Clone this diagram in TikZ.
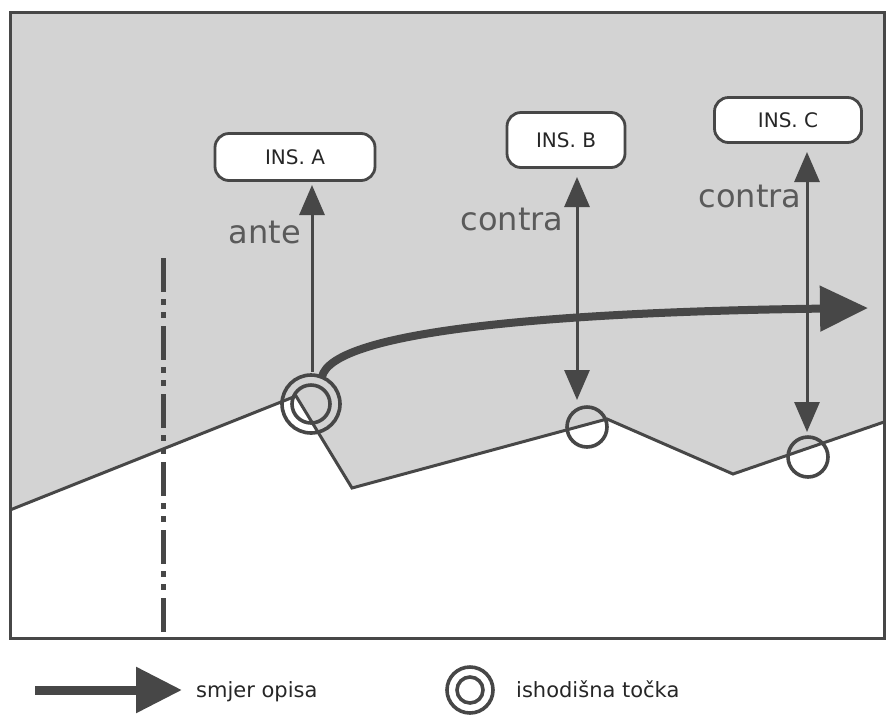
\documentclass[tikz,border=0pt]{standalone}
\usepackage{fontspec}
\setmainfont{DejaVu Sans}
\usetikzlibrary{arrows.meta}
\definecolor{ink}{HTML}{474747}
\definecolor{zonegray}{HTML}{D3D3D3}
\definecolor{txtgray}{HTML}{5A5A5A}
\begin{document}
\begin{tikzpicture}[x=1pt,y=-1pt,
  insbox/.style={draw=ink, line width=2.8pt, fill=white, rounded corners=14pt,
    font=\fontsize{20}{20}\selectfont, text=black!85, inner sep=0pt},
  lbl/.style={font=\fontsize{32}{32}\selectfont, text=txtgray, anchor=base, inner sep=0pt},
  legtxt/.style={font=\fontsize{21}{21}\selectfont, text=black!85, anchor=base west, inner sep=0pt},
  ring/.style={draw=ink, line width=3.6pt, circle, inner sep=0pt, outer sep=0pt},
  tipA/.style={-{Triangle[length=30pt,width=25pt]}},
  tipAB/.style={{Triangle[length=30pt,width=25pt]}-{Triangle[length=30pt,width=25pt]}},
  measure/.style={draw=ink, line width=3pt},
  ground/.style={draw=ink, line width=3pt, line join=miter}
]
\useasboundingbox (0,0) rectangle (888,721);

% shaded zone above the ground line
\fill[zonegray] (10,12) -- (884,12) -- (884,422) -- (733,474) -- (607,419) -- (352,488) -- (296,396) -- (10,510) -- cycle;
\draw[ground] (10,510) -- (296,396) -- (352,488) -- (607,419) -- (733,474) -- (884,422);

% frame
\draw[ink, line width=3pt] (10,12) rectangle (884,638);

% dash-dot line
\coordinate (dd1) at (163,258);
\coordinate (dd2) at (163,638);
\draw[ink, line width=5pt, dash pattern=on 34pt off 7pt on 6pt off 7pt on 6pt off 8pt] (dd1) -- (dd2);

% circles on the ground line
\node[ring, minimum size=58pt] (cA) at (311,404) {};
\draw[ink, line width=3.6pt] (cA.center) circle (19);
\node[ring, minimum size=40pt] (cB) at (587,427) {};
\node[ring, minimum size=40pt] (cC) at (808,457) {};

% INS boxes
\node[insbox, minimum width=160pt, minimum height=47pt] (insA) at (295,157) {INS. A};
\node[insbox, minimum width=118pt, minimum height=55pt] (insB) at (566,140) {INS. B};
\node[insbox, minimum width=147pt, minimum height=45pt] (insC) at (788,120) {INS. C};

% measure arrows
\coordinate (aBot) at (312,372);
\coordinate (aTop) at (312,185);
\draw[measure, tipA] (aBot) -- (aTop);
\coordinate (bBot) at (577,400);
\coordinate (bTop) at (577,177);
\draw[measure, tipAB] (bTop) -- (bBot);
\coordinate (cBot) at (807,432);
\coordinate (cTop) at (807,152);
\draw[measure, tipAB] (cTop) -- (cBot);

% labels
\node[lbl] (lante) at (265,243) {ante};
\node[lbl] (lcB) at (512,230) {contra};
\node[lbl] (lcC) at (750,207) {contra};

% thick direction arrow
\coordinate (dirEnd) at (868,308);
\draw[ink, line width=8pt, -{Triangle[length=48pt,width=44pt]}]
  (cA.68) .. controls (332,330) and (560,312) .. (dirEnd);

% legend
\coordinate (lgS) at (35,690);
\coordinate (lgE) at (182,690);
\draw[ink, line width=9pt, -{Triangle[length=46pt,width=44pt]}] (lgS) -- (lgE);
\node[legtxt] (lg1) at (196,697) {smjer opisa};
\node[ring, minimum size=46pt] (lgC) at (470,690) {};
\draw[ink, line width=3.6pt] (lgC.center) circle (13);
\node[legtxt] (lg2) at (516,697) {ishodišna točka};
\end{tikzpicture}
\end{document}
